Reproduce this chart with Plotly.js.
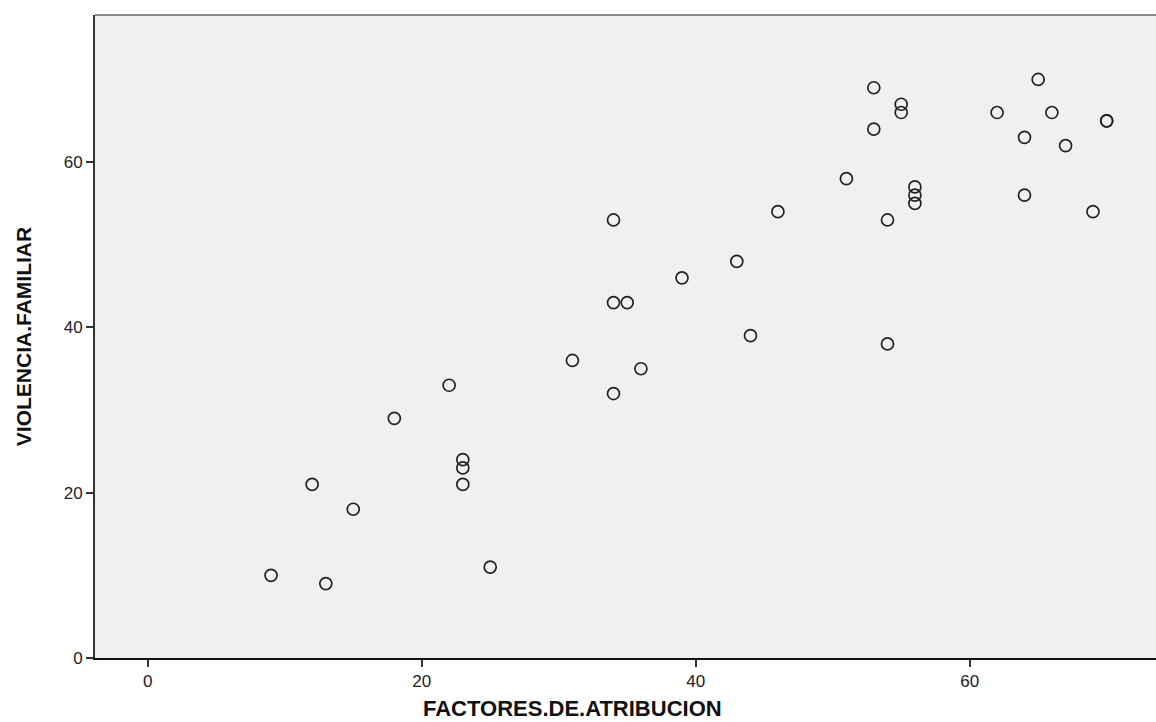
<!DOCTYPE html>
<html>
<head>
<meta charset="utf-8">
<script src="https://cdn.plot.ly/plotly-3.0.1.min.js"></script>
<style>html,body{margin:0;padding:0;background:#fff;}#chart{width:1156px;height:722px;}</style>
</head>
<body>
<div id="chart"></div>
<script>
const factoresAtribucion = [9, 12, 13, 15, 18, 22, 23, 23, 23, 25, 31, 34, 34, 34, 35, 36, 39, 43, 44, 46, 51, 53, 53, 54, 54, 55, 55, 56, 56, 56, 62, 64, 64, 65, 66, 67, 69, 70, 70];
const violenciaFamiliar = [10, 21, 9, 18, 29, 33, 24, 23, 21, 11, 36, 53, 43, 32, 43, 35, 46, 48, 39, 54, 58, 69, 64, 53, 38, 67, 66, 57, 56, 55, 66, 63, 56, 70, 66, 62, 54, 65, 65];
const xTicks = [0, 20, 40, 60];
const yTicks = [0, 20, 40, 60];
const xTitle = 'FACTORES.DE.ATRIBUCION';
const yTitle = 'VIOLENCIA.FAMILIAR';

const trace = {
  x: factoresAtribucion,
  y: violenciaFamiliar,
  type: 'scatter',
  mode: 'markers',
  marker: {symbol: 'circle-open', size: 12, color: '#222', line: {width: 1.7, color: '#222'}},
  hoverinfo: 'x+y'
};

const layout = {
  width: 1156, height: 722,
  margin: {l: 95, r: 0, t: 15, b: 64},
  paper_bgcolor: '#ffffff',
  plot_bgcolor: '#f0f0f0',
  showlegend: false,
  font: {family: 'Liberation Sans, Arial, sans-serif', color: '#222'},
  xaxis: {
    range: [-3.85, 73.6],
    tickvals: xTicks,
    ticktext: xTicks.map(String),
    ticks: 'outside', ticklen: 7, tickwidth: 2, tickcolor: '#333',
    showgrid: false, zeroline: false,
    showline: true, linecolor: '#111', linewidth: 2,
    tickfont: {size: 17, color: '#222'}
  },
  yaxis: {
    range: [0, 77.8],
    tickvals: yTicks,
    ticktext: yTicks.map(String),
    ticks: 'outside', ticklen: 7, tickwidth: 2, tickcolor: '#333',
    showgrid: false, zeroline: false,
    showline: true, linecolor: '#333', linewidth: 2,
    tickfont: {size: 17, color: '#222'},
    title: {text: '<b>' + yTitle + '</b>', font: {family: 'Liberation Sans Narrow, Arial Narrow, Liberation Sans, sans-serif', size: 21, color: '#111'}, standoff: 26}
  },
  shapes: [
    {type: 'line', xref: 'paper', yref: 'paper', x0: 0, x1: 1, y0: 1, y1: 1, line: {color: '#888', width: 2}}
  ],
  annotations: [
    {text: '<b>' + xTitle + '</b>', xref: 'paper', yref: 'paper', x: 0.45, y: 0, yshift: -50, xanchor: 'center', yanchor: 'middle', showarrow: false,
     font: {family: 'Liberation Sans, Arial, sans-serif', size: 22, color: '#111'}}
  ]
};

Plotly.newPlot('chart', [trace], layout, {displayModeBar: false, staticPlot: true});
</script>
</body>
</html>
